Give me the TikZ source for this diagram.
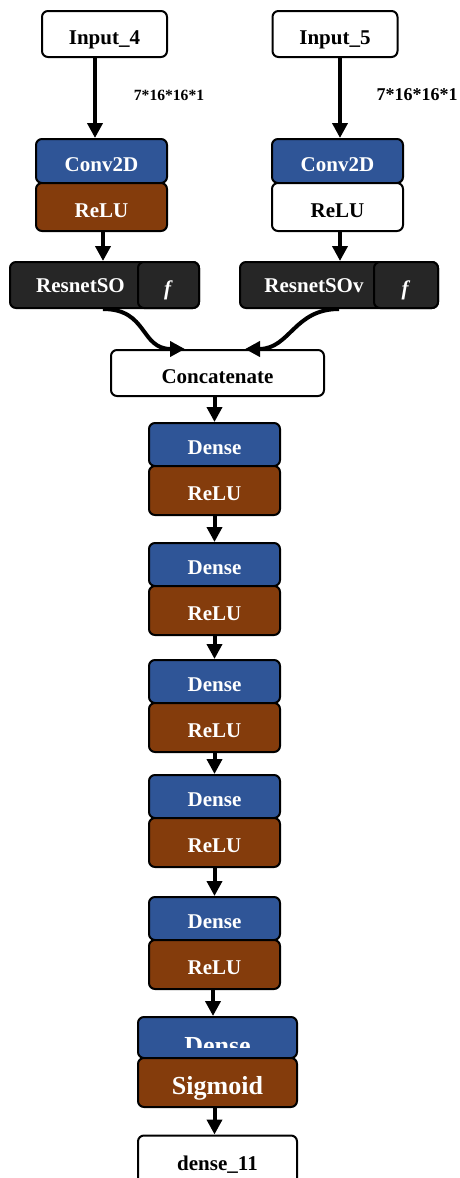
\documentclass[tikz,border=0pt]{standalone}
\usepackage{fontspec}
\setmainfont{Liberation Serif}
\usetikzlibrary{arrows.meta}

\definecolor{layerblue}{HTML}{2F5597}
\definecolor{actbrown}{HTML}{843C0C}
\definecolor{blockdark}{HTML}{262626}

\tikzset{
  box/.style={draw, line width=1pt, rounded corners=3pt, inner sep=0pt,
    text height=10pt, text depth=0pt,
    font=\fontsize{10.5}{12}\selectfont\bfseries},
  inbox/.style={box, fill=white, minimum width=62.5pt, minimum height=23pt},
  convbox/.style={box, fill=layerblue, text=white, minimum width=65.5pt, minimum height=22pt},
  relubox/.style={box, fill=actbrown, text=white, minimum width=65.5pt, minimum height=24pt},
  densebox/.style={box, fill=layerblue, text=white, minimum width=65.5pt, minimum height=21.5pt},
  resbox/.style={box, fill=blockdark, text=white, minimum height=23pt},
  flow/.style={line width=2pt, -{Triangle[width=7.5pt,length=7.5pt]}},
  plaintext/.style={font=\fontsize{10.5}{12}\selectfont\bfseries, inner sep=0pt}
}

\begin{document}
\begin{tikzpicture}[x=0.5pt, y=-0.5pt]
  \useasboundingbox (0,0) rectangle (460,1178);

  % inputs
  \node[inbox] (in4) at (104.5,34) {Input\_4};
  \node[inbox] (in5) at (335,34) {Input\_5};
  \node[plaintext, font=\fontsize{7.8}{9}\selectfont\bfseries] (sh4) at (169,95) {7*16*16*1};
  \node[plaintext, font=\fontsize{9}{10}\selectfont\bfseries] (sh5) at (417,95) {7*16*16*1};

  % conv branches
  \node[convbox] (conva) at (101.5,161) {Conv2D};
  \node[relubox] (relua) at (101.5,207) {ReLU};
  \node[convbox] (convb) at (337.5,161) {Conv2D};
  \node[relubox, fill=white, text=black] (relub) at (337.5,207) {ReLU};

  \draw[flow] ([xshift=-4.75pt]in4.south) -- ([xshift=-4.75pt]in4.south |- conva.north);
  \draw[flow] ([xshift=2.5pt]in5.south) -- ([xshift=2.5pt]in5.south |- convb.north);

  % resnet blocks
  \node[resbox, minimum width=94.5pt] (resa) at (104.5,285) {};
  \node[resbox, minimum width=30.5pt] (fa) at (168.5,285) {\textit{f}};
  \node[plaintext, text=white] (resatext) at (80.5,286) {ResnetSO};
  \node[resbox, minimum width=99pt] (resb) at (339,285) {};
  \node[resbox, minimum width=32pt] (fb) at (406,285) {\textit{f}};
  \node[plaintext, text=white] (resbtext) at (314,286) {ResnetSOv};

  \draw[flow] ([xshift=0.75pt]relua.south) -- ([xshift=0.75pt]relua.south |- resa.north);
  \draw[flow] ([xshift=1.25pt]relub.south) -- ([xshift=1.25pt]relub.south |- resb.north);

  % merge
  \node[box, fill=white, minimum width=106.5pt, minimum height=23pt] (concat) at (217.5,373) {Concatenate};
  \draw[flow] ([xshift=-0.75pt]resa.south) .. controls +(45,0) and +(-45,0) .. ([xshift=-16.25pt]concat.north);
  \draw[flow] (resb.south) .. controls +(-45,0) and +(45,0) .. ([xshift=13.75pt]concat.north);

  % dense stack
  \foreach \i/\y in {1/423, 2/543, 3/660, 4/775, 5/897} {
    \node[densebox] (dense\i) at (214.5,\y+21.5) {Dense};
    \node[relubox, minimum height=24.5pt] (act\i) at (214.5,\y+67.5) {ReLU};
  }
  \draw[flow] ([xshift=-1.5pt]concat.south) -- (dense1.north);
  \foreach \i/\j in {1/2, 2/3, 3/4, 4/5}
    \draw[flow] (act\i.south) -- (dense\j.north);

  % output block
  \node[box, fill=layerblue, minimum width=79.5pt, minimum height=20.5pt] (dense6) at (217.5,1037.5) {};
  \begin{scope}
    \clip (140,1019) rectangle (295,1047);
    \node[plaintext, text=white, anchor=base, font=\fontsize{13}{15}\selectfont\bfseries] (dense6text) at (217.5,1054) {Dense};
  \end{scope}
  \node[box, fill=actbrown, text=white, minimum width=79.5pt, minimum height=24.5pt,
    text height=12pt, font=\fontsize{13}{15}\selectfont\bfseries] (sigm) at (217.5,1082.5) {Sigmoid};
  \node[box, fill=white, minimum width=79.5pt, minimum height=24.5pt] (out) at (217.5,1160) {dense\_11};

  \draw[flow] ([xshift=-0.75pt]act5.south) -- ([xshift=-0.75pt]act5.south |- dense6.north);
  \draw[flow] ([xshift=-1.5pt]sigm.south) -- ([xshift=-1.5pt]sigm.south |- out.north);
\end{tikzpicture}
\end{document}
